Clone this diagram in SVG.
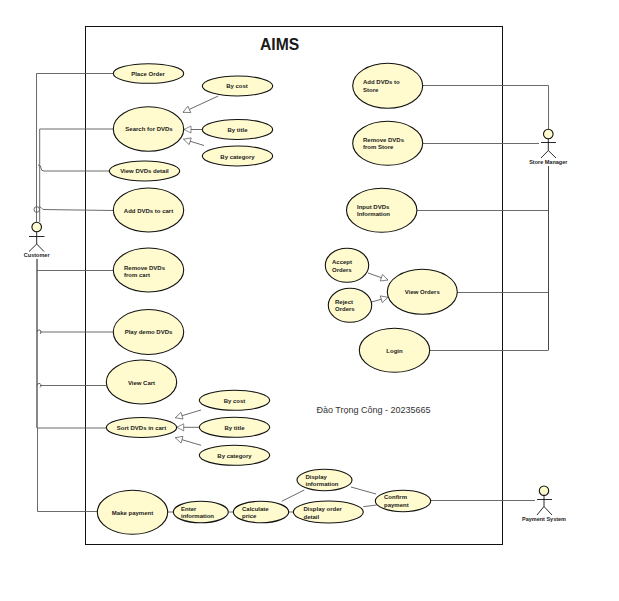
<svg xmlns="http://www.w3.org/2000/svg" width="619" height="601" viewBox="0 0 619 601">
<style>
text{font-family:"Liberation Sans",Arial,sans-serif;font-size:6px;font-weight:700;fill:#1a1a1a}
.u{fill:#fffbcf;stroke:#111;stroke-width:1.1}
.c{fill:none;stroke:#5a5a5a;stroke-width:.9}
.h{fill:none;stroke:#5a5a5a;stroke-width:.9;marker-end:url(#tri)}
.a{fill:none;stroke:#111;stroke-width:.9}
.m{text-anchor:middle}
</style>
<defs>
<marker id="tri" markerUnits="userSpaceOnUse" markerWidth="10" markerHeight="10" refX="7" refY="3.500" orient="auto" overflow="visible">
<path d="M0 0L7 3.500L0 7Z" fill="#fff" stroke="#5a5a5a" stroke-width=".7"/>
</marker>
</defs>
<rect width="619" height="601" fill="#fff"/>
<rect id="system" x="85.500" y="26.500" width="417" height="518" fill="#fff" stroke="#111" stroke-width="1"/>
<text x="260" y="50" style="font-size:15.700px">AIMS</text>
<text x="316.500" y="413" style="font-size:9px;font-weight:400;fill:#333">Đào Trọng Công - 20235665</text>
<g id="connectors">
<path class="c" d="M113 73.500H36.500V222"/>
<path class="c" d="M113 129H39.700V222"/>
<path class="c" d="M109 171H44Q41 171 41 168Q41 165 38 165"/>
<path class="c" d="M113 210.500L43 209.500Q41 207 39 206.500"/>
<circle class="c" cx="36.800" cy="209.500" r="2.800"/>
<path d="M37 259V428" fill="none" stroke="#111" stroke-width="1"/>
<path class="c" d="M37.500 428V511.500H97.500"/>
<path class="c" d="M37 270.500H113"/>
<path class="c" d="M40 332H113"/>
<path class="c" d="M37 332a2.500 2.500 0 0 1 3-2a2.500 2.500 0 0 1 0 4"/>
<path class="c" d="M40 385.500H106.500"/>
<path class="c" d="M37 385.500a2.500 2.500 0 0 1 3-2a2.500 2.500 0 0 1 0 4"/>
<path class="c" d="M37.500 428H106.500"/>
<path class="c" d="M423 85.500H548.500V129"/>
<path class="c" d="M423 143.500H539"/>
<path d="M548.500 166V350" fill="none" stroke="#333" stroke-width=".9"/>
<path class="c" d="M417 210.500H548.500"/>
<path class="c" d="M457.500 292.500H548.500"/>
<path class="c" d="M430 350.500H548.500"/>
<path class="c" d="M431 500.500H535"/>
<path class="h" d="M218.300 96L183 112.300"/>
<path class="h" d="M202 129.500H184"/>
<path class="h" d="M204 145.500L183.500 139.200"/>
<path class="h" d="M201 410L175.300 417.700"/>
<path class="h" d="M199.500 427.300H176.700"/>
<path class="h" d="M201 445.300L175.300 437.700"/>
<path class="h" d="M368 273L388 280"/>
<path class="h" d="M371.700 302L388 297.300"/>
<path class="c" d="M167.500 512H173.500"/>
<path class="c" d="M228.500 512H233.500"/>
<path class="c" d="M281.700 501.300L304.300 490"/>
<path class="c" d="M288.500 512H293.500"/>
<path class="c" d="M351 487L376 494"/>
<path class="c" d="M363.300 506.700L376.700 505"/>
</g>
<g id="customer">
<circle class="u" cx="36.700" cy="227" r="4.800"/>
<path class="a" d="M36.700 232V244M29 236.500H44.500M36.700 244L29 251.500M36.700 244L44 251.500"/>
<text class="m" x="36.700" y="257" style="font-size:5.500px">Customer</text>
</g>
<g id="store-manager">
<circle class="u" cx="548.300" cy="134" r="4.800"/>
<path class="a" d="M548.300 139V150.500M541 142.500H556M548.300 150.500L541 158M548.300 150.500L556 158"/>
<text class="m" x="548.300" y="164" style="font-size:5.500px">Store Manager</text>
</g>
<g id="payment-system">
<circle class="u" cx="544" cy="490.700" r="4.700"/>
<path class="a" d="M544 495.500V506.500M537 499.500H552M544 506.500L537 515M544 506.500L552 515"/>
<text class="m" x="544" y="521" style="font-size:5.500px">Payment System</text>
</g>
<g id="place-order"><ellipse class="u" cx="148.500" cy="73.500" rx="35.200" ry="9.800"/><text class="m" x="148" y="76">Place Order</text></g>
<g id="search"><ellipse class="u" cx="148.500" cy="129" rx="35.200" ry="22.300"/><text class="m" x="149" y="131">Search for DVDs</text></g>
<g id="search-cost"><ellipse class="u" cx="237.500" cy="86" rx="35.200" ry="10"/><text class="m" x="237" y="88">By cost</text></g>
<g id="search-title"><ellipse class="u" cx="237.500" cy="129.500" rx="35.200" ry="10"/><text class="m" x="237.500" y="132">By title</text></g>
<g id="search-category"><ellipse class="u" cx="237.500" cy="156" rx="35.200" ry="10"/><text class="m" x="237.500" y="158.500">By category</text></g>
<g id="view-detail"><ellipse class="u" cx="144.500" cy="171" rx="35.200" ry="10"/><text class="m" x="144.500" y="173">View DVDs detail</text></g>
<g id="add-cart"><ellipse class="u" cx="148.500" cy="210" rx="35.200" ry="22"/><text class="m" x="148.500" y="212.500">Add DVDs to cart</text></g>
<g id="remove-cart"><ellipse class="u" cx="148.500" cy="270" rx="35.200" ry="22"/><text x="124" y="270">Remove DVDs</text><text x="124" y="277">from cart</text></g>
<g id="play-demo"><ellipse class="u" cx="148.500" cy="332" rx="35.200" ry="22.500"/><text class="m" x="148.500" y="334">Play demo DVDs</text></g>
<g id="view-cart"><ellipse class="u" cx="141.500" cy="382" rx="35.200" ry="22"/><text class="m" x="141.500" y="385">View Cart</text></g>
<g id="sort-cart"><ellipse class="u" cx="141.500" cy="427.500" rx="35.200" ry="10"/><text class="m" x="141.500" y="430">Sort DVDs in cart</text></g>
<g id="sort-cost"><ellipse class="u" cx="234.500" cy="400.300" rx="35.200" ry="10"/><text class="m" x="234.500" y="403">By cost</text></g>
<g id="sort-title"><ellipse class="u" cx="234.500" cy="427.300" rx="35.200" ry="10"/><text class="m" x="234.500" y="430">By title</text></g>
<g id="sort-category"><ellipse class="u" cx="234.500" cy="455.300" rx="35.200" ry="10"/><text class="m" x="234.500" y="457.500">By category</text></g>
<g id="make-payment"><ellipse class="u" cx="132.500" cy="512.300" rx="35.200" ry="22"/><text class="m" x="132.500" y="515">Make payment</text></g>
<g id="enter-info"><ellipse class="u" cx="200.800" cy="512" rx="27.500" ry="10.800"/><text x="181" y="511">Enter</text><text x="181" y="518">information</text></g>
<g id="calculate"><ellipse class="u" cx="261" cy="512" rx="27.700" ry="10.800"/><text x="242" y="511">Calculate</text><text x="242" y="518">price</text></g>
<g id="display-info"><ellipse class="u" cx="324.500" cy="480" rx="27.500" ry="10.700"/><text x="305.500" y="478.500">Display</text><text x="305.500" y="486">information</text></g>
<g id="display-order"><ellipse class="u" cx="328.300" cy="512" rx="35" ry="11"/><text x="303.500" y="511">Display order</text><text x="303.500" y="519">detail</text></g>
<g id="confirm"><ellipse class="u" cx="403" cy="501" rx="27.700" ry="10.700"/><text x="384" y="499">Confirm</text><text x="384" y="507">payment</text></g>
<g id="add-store"><ellipse class="u" cx="387.700" cy="85.800" rx="35" ry="22.500"/><text x="363" y="84">Add  DVDs to</text><text x="363" y="92">Store</text></g>
<g id="remove-store"><ellipse class="u" cx="387.700" cy="143.300" rx="35" ry="22"/><text x="363" y="142">Remove DVDs</text><text x="363" y="149">from Store</text></g>
<g id="input-info"><ellipse class="u" cx="381.700" cy="210.300" rx="35.200" ry="22"/><text x="357" y="209">Input DVDs</text><text x="357" y="216">Information</text></g>
<g id="accept"><ellipse class="u" cx="347" cy="265.300" rx="21.700" ry="17"/><text x="332" y="264">Accept</text><text x="332" y="272">Orders</text></g>
<g id="reject"><ellipse class="u" cx="350" cy="305.300" rx="21.700" ry="17"/><text x="335" y="304">Reject</text><text x="335" y="311">Orders</text></g>
<g id="view-orders"><ellipse class="u" cx="422.300" cy="291.800" rx="35" ry="22.500"/><text class="m" x="422.300" y="294">View Orders</text></g>
<g id="login"><ellipse class="u" cx="394.500" cy="350.300" rx="35.200" ry="22"/><text class="m" x="394.500" y="353">Login</text></g>
</svg>
